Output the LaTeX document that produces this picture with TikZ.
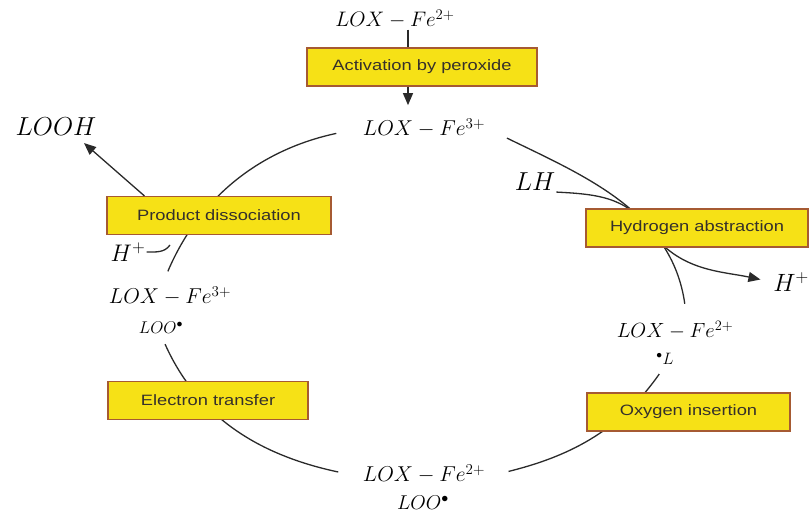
\RequirePackage{fix-cm}
\documentclass[tikz,border=0pt]{standalone}
\usepackage{fontspec}
\newfontfamily\boxfont[FakeStretch=1.22]{Liberation Sans}
\usetikzlibrary{arrows.meta}
\definecolor{boxYellow}{HTML}{F6E116}
\definecolor{boxEdge}{HTML}{A65A32}
\definecolor{boxText}{HTML}{35302B}
\definecolor{lineGray}{HTML}{2A2A2A}

\tikzset{
    stepbox/.style={draw=boxEdge, fill=boxYellow, line width=1.1pt, minimum height=38pt,
        font=\boxfont\fontsize{15}{15}\selectfont, text=boxText},
    spec/.style={inner sep=1pt, font=\fontsize{#1}{#1}\selectfont},
    cyc/.style={line width=1.3pt, draw=lineGray},
    arr/.style={cyc, -{Triangle[length=12pt, width=10pt]}},
}

\begin{document}
\begin{tikzpicture}[x=1pt, y=1pt]
    \useasboundingbox (0,0) rectangle (811,513);

    % species round the cycle
    \node[spec=21] (top1) at (395,494) {$LOX-Fe^{2+}$};
    \node[spec=21.5] (top2) at (424,385) {$LOX-Fe^{3+}$};
    \node[spec=26] (looh) at (56,386) {$LOOH$};
    \node[spec=24] (hl) at (128,261) {$H^{+}$};
    \node[spec=21.5] (lfe) at (170,217) {$LOX-Fe^{3+}$};
    \node[spec=17] (lloo) at (161,185) {$LOO^{\bullet}$};
    \node[spec=21.5] (bfe) at (424,39) {$LOX-Fe^{2+}$};
    \node[spec=20] (bloo) at (423,10) {$LOO^{\bullet}$};
    \node[spec=16.5] (rl) at (665,154) {$^{\bullet}L$};
    \node[spec=20.5] (rfe) at (675,183) {$LOX-Fe^{2+}$};
    \node[spec=25] (hr) at (791,231) {$H^{+}$};
    \node[spec=26] (lh) at (535,331) {$LH$};

    \coordinate (vx) at (408,0);
    \coordinate (hj) at (170,268);
    \coordinate (hx) at (648,285);

    % the cycle
    \draw[cyc, shorten <=26pt, shorten >=15pt] (top2.west) to[out=192, in=67] ([xshift=-8pt]lfe.north);
    \draw[cyc] (hl.east) to[out=0, in=235] (hj);
    \draw[cyc, shorten <=10pt, shorten >=24pt] (lloo.south) to[out=-66, in=168] ([yshift=-3pt]bfe.west);
    \draw[cyc, shorten <=23pt, shorten >=10pt] ([yshift=-3pt]bfe.east) to[out=14, in=235] (rl.south);
    \draw[cyc, shorten <=16pt, shorten >=23pt] ([xshift=12pt]rfe.north) to[out=98, in=-26] (top2.east);
    % LH in, H+ out
    \draw[arr, shorten >=12pt] (lh.south east) to[out=-3, in=125] (hx) to[out=-55, in=168] (hr.west);

    % steps
    \foreach \nm/\x/\y/\w/\txt in {act/422/446/230/Activation by peroxide,
            pd/219/297.5/224/Product dissociation,
            hab/697/285/222/Hydrogen abstraction,
            et/208/112.5/200/Electron transfer,
            ox/688.5/101/203/Oxygen insertion}
        \node[stepbox, minimum width=\w pt] (\nm) at (\x,\y) {\txt};

    \draw[cyc] (top1.south -| vx) -- (act.north -| vx);
    \draw[arr, shorten >=12pt] (act.south -| vx) -- (top2.north -| vx);
    \draw[arr] ([xshift=38pt]pd.north west) -- ([xshift=28pt,yshift=-6pt]looh.south);
\end{tikzpicture}
\end{document}
